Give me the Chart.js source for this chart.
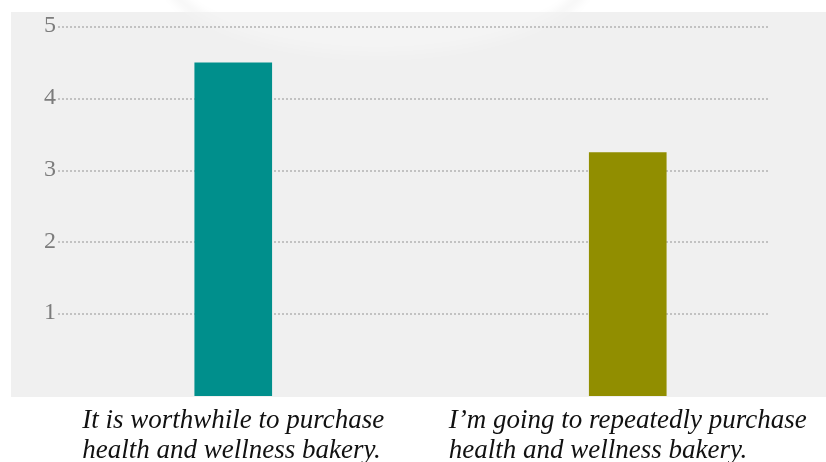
<!DOCTYPE html>
<html>
<head>
<meta charset="utf-8">
<script src="https://cdn.jsdelivr.net/npm/chart.js@4"></script>
<style>
  html, body { margin: 0; padding: 0; background: #ffffff; }
  canvas { display: block; }
</style>
</head>
<body>
<canvas id="chart" width="826" height="462"></canvas>
<script>
// Survey statements (each drawn on two lines)
const categories = [
  ["It is worthwhile to purchase", "health and wellness bakery."],
  ["I\u2019m going to repeatedly purchase", "health and wellness bakery."]
];
// Mean agreement score per statement
const scores = [4.5, 3.25];
const barColors = ["#008f8c", "#918e00"];
// Value-axis ticks and range
const yTicks = [1, 2, 3, 4, 5];
const yMin = -0.14;
const yMax = 5;

const SERIF = '"Liberation Serif", "Times New Roman", "DejaVu Serif", serif';

const decor = {
  id: "decor",
  beforeDraw(chart) {
    const ctx = chart.ctx;
    const W = chart.width;
    ctx.save();
    // panel background
    ctx.fillStyle = "#f0f0f0";
    ctx.fillRect(11, 12, W - 11, 385);

    // soft light ellipse at the top of the panel
    ctx.save();
    ctx.beginPath();
    ctx.rect(11, 12, W - 11, 385);
    ctx.clip();
    ctx.filter = "blur(8px)";
    ctx.fillStyle = "rgba(255,255,255,0.3)";
    ctx.beginPath();
    ctx.ellipse(378, -30, 212, 84, 0, 0, Math.PI * 2);
    ctx.fill();
    ctx.restore();

    // faint rim above the panel
    ctx.save();
    ctx.beginPath();
    ctx.rect(0, 0, W, 12);
    ctx.clip();
    ctx.filter = "blur(4px)";
    ctx.strokeStyle = "rgba(0,0,0,0.035)";
    ctx.lineWidth = 10;
    ctx.beginPath();
    ctx.ellipse(378, -30, 212, 84, 0, 0, Math.PI * 2);
    ctx.stroke();
    ctx.restore();
    ctx.restore();
  },
  beforeDatasetsDraw(chart) {
    const ctx = chart.ctx;
    const y = chart.scales.y;
    ctx.save();
    // dotted gridlines
    ctx.strokeStyle = "#c2c2c2";
    ctx.lineWidth = 2;
    ctx.setLineDash([2, 2]);
    yTicks.forEach(t => {
      const py = Math.round(y.getPixelForValue(t));
      ctx.beginPath();
      ctx.moveTo(58, py);
      ctx.lineTo(769, py);
      ctx.stroke();
    });
    ctx.setLineDash([]);
    // tick labels
    ctx.fillStyle = "#7c7c7c";
    ctx.font = "24px " + SERIF;
    ctx.textAlign = "right";
    ctx.textBaseline = "middle";
    yTicks.forEach(t => {
      const py = y.getPixelForValue(t);
      ctx.fillText(String(t), 56, py - 1);
    });
    ctx.restore();
  },
  afterDraw(chart) {
    const ctx = chart.ctx;
    const x = chart.scales.x;
    ctx.save();
    ctx.fillStyle = "#111111";
    ctx.font = "italic 27px " + SERIF;
    ctx.textAlign = "left";
    ctx.textBaseline = "alphabetic";
    categories.forEach((lines, i) => {
      const cx = x.getPixelForValue(i);
      const w = Math.max(...lines.map(l => ctx.measureText(l).width));
      const left = cx - w / 2;
      lines.forEach((l, j) => ctx.fillText(l, left, 428 + j * 30));
    });
    ctx.restore();
  }
};

new Chart(document.getElementById("chart"), {
  type: "bar",
  data: {
    labels: categories.map(c => c.join(" ")),
    datasets: [{
      data: scores,
      base: yMin,
      backgroundColor: barColors,
      borderWidth: 0,
      barThickness: 77
    }]
  },
  options: {
    responsive: false,
    animation: false,
    layout: { padding: { left: 36, right: 1, top: 27, bottom: 66 } },
    plugins: { legend: { display: false }, tooltip: { enabled: false } },
    scales: {
      x: { display: false },
      y: { display: false, min: yMin, max: yMax }
    }
  },
  plugins: [decor]
});
</script>
</body>
</html>
